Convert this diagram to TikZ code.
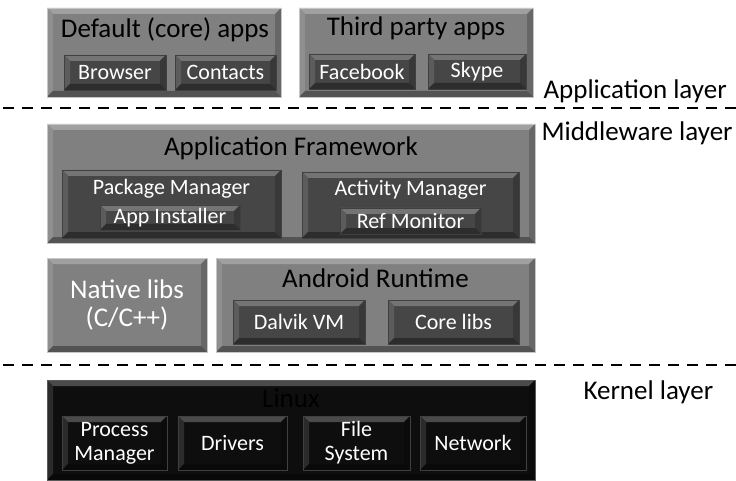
\documentclass[tikz,border=0pt]{standalone}
\usepackage{fontspec}
\setmainfont{Carlito}
\definecolor{boxgray}{RGB}{128,128,128}
\definecolor{partgray}{RGB}{70,70,70}
\definecolor{kernelblack}{RGB}{14,14,14}
\newcommand\bigtxt{\fontsize{27}{28}\selectfont}
\newcommand\smalltxt{\fontsize{22}{24}\selectfont}
\begin{document}
\begin{tikzpicture}[x=1pt,y=-1pt]
    \tikzset{
      bevel/.style={fill=#1,path picture={
        \path (path picture bounding box.north west) coordinate (pnw)
              (path picture bounding box.south east) coordinate (pse);
        \fill[#1!75!white] (pnw) -- (pnw -| pse) -- ([shift={(-6pt,-6pt)}]pnw -| pse) -- ([shift={(6pt,-6pt)}]pnw) -- cycle;
        \fill[#1!88!white] (pnw) -- (pnw |- pse) -- ([shift={(6pt,6pt)}]pnw |- pse) -- ([shift={(6pt,-6pt)}]pnw) -- cycle;
        \fill[#1!80!black] (pnw -| pse) -- (pse) -- ([shift={(-6pt,6pt)}]pse) -- ([shift={(-6pt,-6pt)}]pnw -| pse) -- cycle;
        \fill[#1!65!black] (pnw |- pse) -- (pse) -- ([shift={(-6pt,6pt)}]pse) -- ([shift={(6pt,6pt)}]pnw |- pse) -- cycle;}},
      panel/.style={rectangle,inner sep=0pt,draw=gray!45,line width=0.8pt,bevel=boxgray},
      part/.style={rectangle,inner sep=0pt,draw=black!75,line width=0.8pt,bevel=partgray,
        text=white,font=\smalltxt,align=center},
      kernel/.style={panel,draw=gray!70!black,bevel=kernelblack},
      title/.style={font=\bigtxt},
      layername/.style={font=\bigtxt,anchor=west},
      sep/.style={line width=2.6pt,dash pattern=on 11pt off 8pt}};
    \useasboundingbox (0,0) rectangle (736,481);
    % application layer
    \node[panel,minimum width=234pt,minimum height=89pt] (core) at (164,52.5) {};
    \node[title] (coret) at (165,30) {Default (core) apps};
    \node[part,minimum width=102pt,minimum height=35pt] (browser) at (115,72.5) {Browser};
    \node[part,minimum width=101pt,minimum height=35pt] (contacts) at (225.5,72.5) {Contacts};
    \node[panel,minimum width=234pt,minimum height=89pt] (third) at (416,52.5) {};
    \node[title] (thirdt) at (416,28) {Third party apps};
    \node[part,minimum width=106pt,minimum height=35pt] (facebook) at (362,71.5) {Facebook};
    \node[part,minimum width=98pt,minimum height=35pt] (skype) at (477,71.5) {Skype};
    \node[layername] (applayer) at (540,91) {Application layer};
    \coordinate (sepA) at (3,108);
    \coordinate (sepB) at (736,108);
    \draw[sep] (sepA) -- (sepB);
    % middleware layer
    \node[layername] (midlayer) at (538,133) {Middleware layer};
    \node[panel,minimum width=488pt,minimum height=119pt] (frame) at (291,183.5) {};
    \node[title] (framet) at (291,148) {Application Framework};
    \node[part,minimum width=219pt,minimum height=68pt] (pkg) at (171.5,204) {};
    \node[font=\smalltxt,text=white] (pkgt) at (171.5,189) {Package Manager};
    \node[part,minimum width=140pt,minimum height=25pt] (inst) at (170,217.5) {App Installer};
    \node[part,minimum width=217pt,minimum height=66pt] (act) at (410.5,205) {};
    \node[font=\smalltxt,text=white] (actt) at (410.5,190) {Activity Manager};
    \node[part,minimum width=141pt,minimum height=26pt] (refmon) at (410.5,221) {Ref Monitor};
    \node[panel,minimum width=160pt,minimum height=94pt,text=white,font=\bigtxt,align=center]
      (native) at (127,305) {Native libs\\(C/C++)};
    \node[panel,minimum width=319pt,minimum height=94pt] (runtime) at (375.5,305) {};
    \node[title] (runtimet) at (375.5,278) {Android Runtime};
    \node[part,minimum width=132pt,minimum height=44pt] (dalvik) at (299,322) {Dalvik VM};
    \node[part,minimum width=131pt,minimum height=44pt] (corelibs) at (453.5,322) {Core libs};
    \coordinate (sepC) at (3,365);
    \coordinate (sepD) at (736,365);
    \draw[sep] (sepC) -- (sepD);
    % kernel layer
    \node[layername] (kerlayer) at (580,392) {Kernel layer};
    \node[kernel,minimum width=488pt,minimum height=100pt] (linux) at (291,430) {};
    \node[title] (linuxt) at (291,398) {Linux};
    \node[part,bevel=kernelblack,minimum width=105pt,minimum height=54pt] (procmgr) at (114.5,443) {Process\\Manager};
    \node[part,bevel=kernelblack,minimum width=109pt,minimum height=54pt] (drivers) at (232.5,443) {Drivers};
    \node[part,bevel=kernelblack,minimum width=107pt,minimum height=54pt] (filesys) at (356.5,443) {File\\System};
    \node[part,bevel=kernelblack,minimum width=106pt,minimum height=54pt] (network) at (473,443) {Network};
\end{tikzpicture}
\end{document}
